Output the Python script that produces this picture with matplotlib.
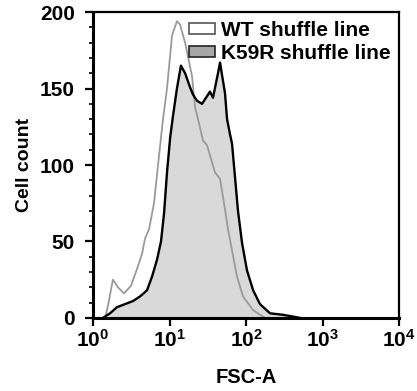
import matplotlib
matplotlib.use("Agg")
import matplotlib.pyplot as plt
import matplotlib.ticker as mticker
from matplotlib.patches import Patch

plt.rcParams['font.family'] = ['Liberation Sans', 'DejaVu Sans']
plt.rcParams['font.weight'] = 'bold'
plt.rcParams['mathtext.fontset'] = 'custom'
plt.rcParams['mathtext.rm'] = 'Liberation Sans:bold'
plt.rcParams['mathtext.bf'] = 'Liberation Sans:bold'
plt.rcParams['mathtext.it'] = 'Liberation Sans:bold'

# WT shuffle line (gray outline)
wt_fsc = [1.44, 1.57, 1.82, 2.12, 2.54, 3.14, 3.76, 4.38, 4.79, 5.40, 6.27, 7.08,
          8.22, 9.27, 10.8, 12.5, 13.7, 16.0, 19.7, 21.5, 23.6, 27.4, 30.9, 39.4,
          45.7, 53.1, 58.2, 65.6, 76.2, 91.4, 124, 177]
wt_count = [0, 8, 25, 20, 16, 21, 32, 42, 52, 58, 75, 100,
            130, 150, 185, 194, 192, 180, 158, 138, 130, 116, 113, 95,
            91, 71, 58, 44, 27, 14, 5, 0]

# K59R shuffle line (black outline, filled)
k59r_fsc = [1.35, 1.67, 2.06, 2.62, 3.33, 4.11, 5.08, 5.91, 6.86, 7.74, 8.47, 9.27,
            10.2, 11.1, 12.5, 14.1, 16.0, 18.5, 20.3, 22.9, 26.6, 30.9, 33.8, 37.0,
            43.0, 45.7, 50.0, 53.1, 56.5, 61.8, 65.6, 71.8, 78.5, 88.7, 103, 124,
            152, 206, 305, 508]
k59r_count = [0, 3, 7, 9, 11, 14, 18, 27, 38, 50, 68, 95,
              118, 132, 150, 165, 160, 151, 146, 142, 140, 145, 148, 144,
              160, 167, 155, 147, 130, 120, 114, 92, 70, 49, 31, 18,
              9, 3, 2, 0]

legend_labels = ["WT shuffle line", "K59R shuffle line"]
y_ticks = [0, 50, 100, 150, 200]
x_ticks = [1, 10, 100, 1000, 10000]
x_tick_labels = [r"$10^{0}$", r"$10^{1}$", r"$10^{2}$", r"$10^{3}$", r"$10^{4}$"]

fig = plt.figure(figsize=(4.17, 3.91), dpi=100)
ax = fig.add_axes([0.223, 0.187, 0.734, 0.782])

ax.fill_between(k59r_fsc, k59r_count, 0, color="#d9d9d9", lw=0, zorder=1)
ax.plot(wt_fsc, wt_count, color="#9a9a9a", lw=1.3, zorder=2)
ax.plot(k59r_fsc, k59r_count, color="black", lw=1.7, zorder=3)

ax.set_xscale("log")
ax.set_xlim(1, 10000)
ax.set_ylim(0, 200)

ax.set_xticks(x_ticks)
ax.set_xticklabels(x_tick_labels)
ax.xaxis.set_minor_locator(mticker.LogLocator(base=10, subs=range(2, 10)))
ax.xaxis.set_minor_formatter(mticker.NullFormatter())
ax.set_yticks(y_ticks)
ax.yaxis.set_minor_locator(mticker.MultipleLocator(10))

ax.tick_params(axis="both", which="major", direction="out", length=6, width=1.6,
               labelsize=15, color="black")
ax.tick_params(axis="both", which="minor", direction="out", length=3, width=1.2,
               color="black")
ax.tick_params(axis="y", which="major", pad=7)
ax.tick_params(axis="x", which="major", pad=2)

for side in ["left", "bottom"]:
    ax.spines[side].set_linewidth(2.2)
for side in ["top", "right"]:
    ax.spines[side].set_linewidth(1.6)

ax.set_ylabel("Cell count", fontsize=14, fontweight="bold", labelpad=5)
ax.set_xlabel("FSC-A", fontsize=14.5, fontweight="bold", labelpad=12)

handles = [Patch(facecolor="white", edgecolor="#555555", linewidth=1.2),
           Patch(facecolor="#a6a6a6", edgecolor="#222222", linewidth=1.2)]
leg = ax.legend(handles, legend_labels, loc="upper left",
                bbox_to_anchor=(0.30, 0.985), frameon=False,
                prop={"weight": "bold", "size": 15},
                handlelength=1.25, handleheight=0.45, handletextpad=0.3,
                labelspacing=0.2, borderpad=0.2, borderaxespad=0.0)

fig.savefig("out.png", dpi=100)
